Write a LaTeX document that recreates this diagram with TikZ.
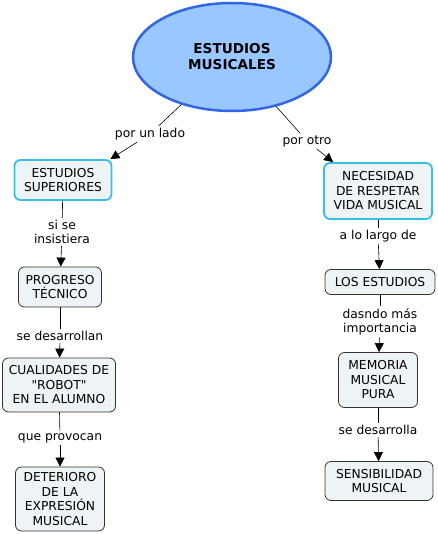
\documentclass[tikz,border=0pt]{standalone}
\usepackage{fontspec}
\setmainfont{DejaVu Sans}[Ligatures=TeXOff]
\usetikzlibrary{arrows.meta,shapes.geometric}
\definecolor{ellfill}{RGB}{153,199,255}
\definecolor{ellline}{RGB}{51,102,230}
\definecolor{boxfill}{RGB}{238,244,246}
\definecolor{cyanline}{RGB}{51,192,232}
\tikzset{
  conc/.style={draw=black!80, fill=boxfill, rounded corners=6pt, align=center,
    font=\fontsize{12.3}{14.5}\selectfont, inner xsep=3pt, inner ysep=3pt, line width=0.8pt},
  hconc/.style={conc, draw=cyanline, line width=1.8pt},
  lab/.style={align=center, font=\fontsize{12.3}{14.5}\selectfont, inner sep=2pt, fill=white},
  conn/.style={draw=black, line width=0.6pt},
  arr/.style={conn, -{Triangle[width=9pt,length=9pt]}}
}
\begin{document}
\begin{tikzpicture}[x=1pt,y=-1pt]
\useasboundingbox (0,0) rectangle (437,534);
\node[ellipse, draw=ellline, line width=2.5pt, fill=ellfill, minimum width=198pt, minimum height=108pt,
  align=center, font=\fontsize{13.6}{16}\selectfont\bfseries] (E) at (232,57) {ESTUDIOS\\MUSICALES};

\node[hconc, minimum width=97pt, minimum height=40pt] (ES) at (63,180) {ESTUDIOS\\SUPERIORES};
\node[conc, minimum width=83pt, minimum height=40pt] (PT) at (60,287) {PROGRESO\\TÉCNICO};
\node[conc, minimum width=113pt, minimum height=54pt] (CR) at (59,385) {CUALIDADES DE\\"ROBOT"\\EN EL ALUMNO};
\node[conc, minimum width=89pt, minimum height=64pt] (DE) at (60,499) {DETERIORO\\DE LA\\EXPRESIÓN\\MUSICAL};

\node[hconc, minimum width=108pt, minimum height=56pt] (NE) at (378,191) {NECESIDAD\\DE RESPETAR\\VIDA MUSICAL};
\node[conc, minimum width=110pt, minimum height=25pt] (LE) at (380,282) {LOS ESTUDIOS};
\node[conc, minimum width=79pt, minimum height=55pt] (MM) at (378,380) {MEMORIA\\MUSICAL\\PURA};
\node[conc, minimum width=108pt, minimum height=39pt] (SM) at (379,481) {SENSIBILIDAD\\MUSICAL};

\node[lab] (l1) at (150,134) {por un lado};
\node[lab] (l2) at (307,141) {por otro};
\node[lab] (l3) at (62,232) {si se\\insistiera};
\node[lab] (l4) at (60,336) {se desarrollan};
\node[lab] (l5) at (60,438) {que provocan};
\node[lab] (l6) at (378,236) {a lo largo de};
\node[lab] (l7) at (380,322) {dasndo más\\importancia};
\node[lab] (l8) at (378,430) {se desarrolla};

\draw[conn] (E) -- (l1);
\draw[arr] (l1) -- ([xshift=-2pt]ES.north east);
\draw[conn] (E) -- (l2);
\draw[arr] (l2) -- ([xshift=10pt]NE.north west);
\draw[conn] (ES) -- (l3);
\draw[arr] (l3) -- (PT);
\draw[conn] (PT) -- (l4);
\draw[arr] (l4) -- (CR);
\draw[conn] (CR) -- (l5);
\draw[arr] (l5) -- (DE);
\draw[conn] (NE) -- (l6);
\draw[arr] (l6) -- (LE);
\draw[conn] (LE) -- (l7);
\draw[arr] (l7) -- (MM);
\draw[conn] (MM) -- (l8);
\draw[arr] (l8) -- (SM);
\end{tikzpicture}
\end{document}
